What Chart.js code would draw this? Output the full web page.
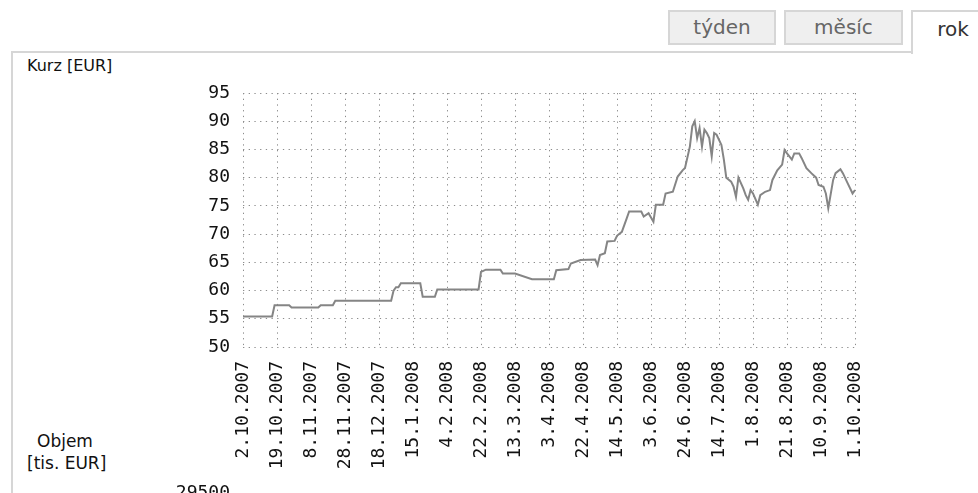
<!DOCTYPE html>
<html>
<head>
<meta charset="utf-8">
<script src="https://cdn.jsdelivr.net/npm/chart.js@4.4.0/dist/chart.umd.min.js"></script>
<style>
  html, body { margin: 0; padding: 0; background: #fff; }
  body { width: 978px; height: 493px; overflow: hidden; position: relative; font-family: "DejaVu Sans", sans-serif; }
  .tab { position: absolute; box-sizing: border-box; top: 10px; height: 35px; border: 2px solid #d6d6d6; background: #efefef;
         color: #666; font-size: 20px; text-align: center; line-height: 30px; }
  #t1 { left: 668px; width: 108px; }
  #t2 { left: 784px; width: 119px; }
  #t3 { left: 911px; width: 80px; height: 44px; background: #fff; border-bottom: none; color: #333; padding-left: 4px; line-height: 34px; }
  #panelTop { position: absolute; left: 11px; top: 51px; width: 902px; height: 2px; background: #d6d6d6; }
  #panelLeft { position: absolute; left: 11px; top: 51px; width: 2px; height: 460px; background: #d6d6d6; }
  .lbl { position: absolute; color: #111; font-size: 16px; }
  canvas { position: absolute; left: 0; }
</style>
</head>
<body>
<div class="tab" id="t1">týden</div>
<div class="tab" id="t2">měsíc</div>
<div class="tab" id="t3">rok</div>
<div id="panelTop"></div>
<div id="panelLeft"></div>
<div class="lbl" style="left:27px; top:56px;">Kurz [EUR]</div>
<div class="lbl" style="left:37px; top:431px; font-size:17px;">Objem</div>
<div class="lbl" style="left:27px; top:453px; font-size:17px;">[tis. EUR]</div>
<canvas id="c1" width="978" height="493" style="top:0;"></canvas>
<canvas id="c2" width="978" height="200" style="top:470px;"></canvas>
<script>
// ---- data ----
const dateLabels = ["2.10.2007","19.10.2007","8.11.2007","28.11.2007","18.12.2007","15.1.2008","4.2.2008",
  "22.2.2008","13.3.2008","3.4.2008","22.4.2008","14.5.2008","3.6.2008","24.6.2008","14.7.2008",
  "1.8.2008","21.8.2008","10.9.2008","1.10.2008"];
const daysPerLabel = 14;
const priceDay = [0,12,13,19,20,31,32,37,38,61,62,63,64,65,73,74,79,80,97,98,100,106,107,112,119,128,129,134,135,
  139,145,146,147,149,150,153,154,156,158,159,164,165,167,169,170,173,174,177,179,181,182,184,185,186,187,188,
  189,190,191,192,193,194,195,197,198,199,201,202,203,204,206,207,208,209,210,212,213,215,217,218,220,222,223,
  224,226,227,229,230,232,234,236,237,239,240,241,243,244,246,247,249,251,252];
const price = [55.4,55.4,57.4,57.4,57.0,57.0,57.4,57.4,58.2,58.2,60.0,60.6,60.6,61.3,61.3,58.9,58.9,60.2,60.2,63.3,
  63.7,63.7,63.0,63.0,62.0,62.0,63.6,63.8,64.8,65.4,65.5,64.5,66.3,66.6,68.7,68.8,69.7,70.4,72.8,74.0,74.0,73.1,
  73.7,72.2,75.2,75.2,77.2,77.5,80.2,81.3,81.7,85.5,89.1,90.0,87.0,88.8,85.5,88.5,87.9,87.0,83.8,87.9,87.6,85.8,
  83.2,80.0,79.3,78.4,76.6,80.0,78.1,76.9,76.1,77.8,77.2,75.2,76.9,77.5,77.8,79.6,81.3,82.3,84.9,84.3,83.2,84.3,
  84.3,83.5,81.7,80.8,80.0,78.7,78.4,77.2,74.6,79.6,80.8,81.5,80.8,79.0,77.2,77.8];
const priceTicks = { min: 50, max: 95, step: 5 };
const volumeTicks = [29500];

// ---- chart ----
const gridColor = '#8c8c8c';
const dots = [1.3, 4.4];
const tickFont = { family: 'DejaVu Sans Mono', size: 18 };
const Y_AXIS_W = 243;

new Chart(document.getElementById('c1'), {
  type: 'line',
  data: {
    datasets: [{
      data: priceDay.map((d, i) => ({ x: d, y: price[i] })),
      borderColor: '#858585', borderWidth: 2, pointRadius: 0, tension: 0, fill: false
    }]
  },
  options: {
    responsive: false, animation: false, devicePixelRatio: 1,
    layout: { padding: { top: 93, right: 123, left: 0, bottom: 0 } },
    plugins: { legend: { display: false }, tooltip: { enabled: false } },
    scales: {
      x: {
        type: 'linear', min: 0, max: (dateLabels.length - 1) * daysPerLabel,
        afterBuildTicks: s => { s.ticks = dateLabels.map((_, i) => ({ value: i * daysPerLabel })); },
        afterFit: s => { s.height = 146; },
        ticks: { callback: (v) => dateLabels[Math.round(v / daysPerLabel)], minRotation: 90, maxRotation: 90,
                 autoSkip: false, padding: 14, color: '#111', font: tickFont },
        grid: { color: gridColor, lineWidth: 1, drawTicks: false },
        border: { display: false, dash: dots }
      },
      y: {
        min: priceTicks.min, max: priceTicks.max,
        ticks: { stepSize: priceTicks.step, padding: 13, color: '#111', font: tickFont },
        afterFit: s => { s.width = Y_AXIS_W; },
        grid: { color: gridColor, lineWidth: 1, drawTicks: false },
        border: { display: false, dash: dots }
      }
    }
  }
});

new Chart(document.getElementById('c2'), {
  type: 'line',
  data: { datasets: [] },
  options: {
    responsive: false, animation: false, devicePixelRatio: 1,
    layout: { padding: { top: 21, right: 123, left: 0, bottom: 20 } },
    plugins: { legend: { display: false }, tooltip: { enabled: false } },
    scales: {
      x: { type: 'linear', min: 0, max: (dateLabels.length - 1) * daysPerLabel, display: true,
           ticks: { display: false }, grid: { display: false }, border: { display: false } },
      y: {
        min: 0, max: volumeTicks[volumeTicks.length - 1],
        afterBuildTicks: s => { s.ticks = volumeTicks.map(v => ({ value: v })); },
        afterFit: s => { s.width = Y_AXIS_W; },
        ticks: { padding: 13, color: '#111', font: tickFont, callback: v => String(v) },
        grid: { color: gridColor, lineWidth: 1, drawTicks: false },
        border: { display: false, dash: dots }
      }
    }
  }
});
</script>
</body>
</html>
